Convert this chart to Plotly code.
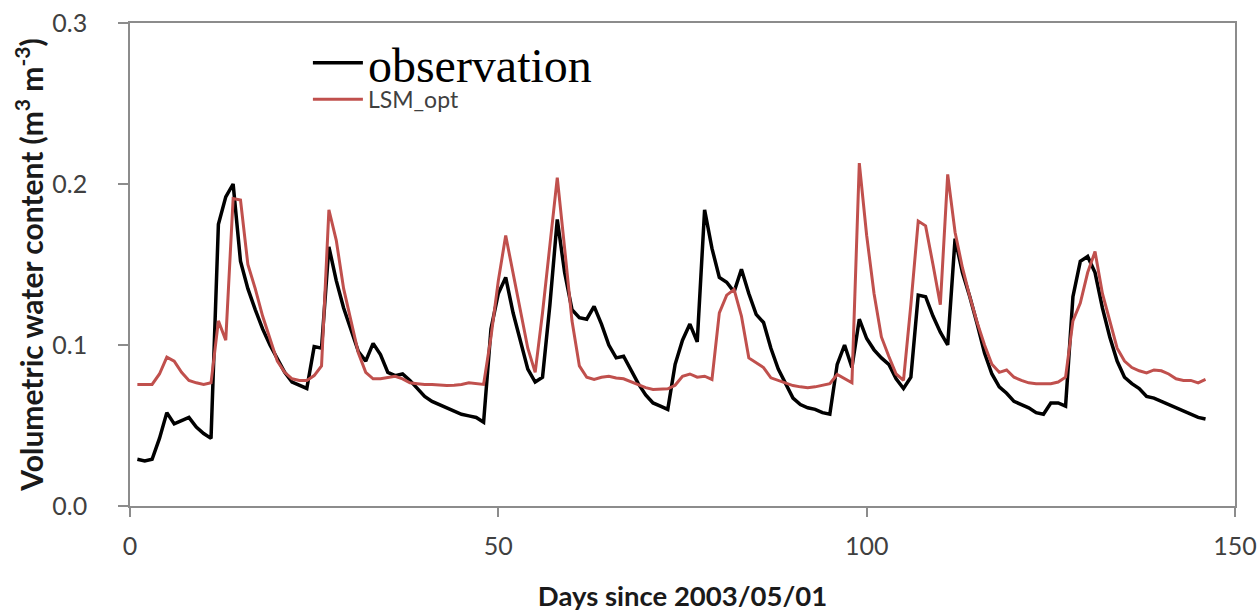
import plotly.graph_objects as go

# Daily volumetric water content, days since 2003/05/01
days = list(range(1, 147))

observation = [
    0.029, 0.028, 0.029, 0.042, 0.058, 0.051, 0.053, 0.055, 0.049, 0.045,
    0.042, 0.175, 0.192, 0.200, 0.152, 0.135, 0.122, 0.110, 0.100, 0.092,
    0.083, 0.077, 0.075, 0.073, 0.099, 0.098, 0.161, 0.140, 0.123, 0.110,
    0.096, 0.090, 0.101, 0.094, 0.083, 0.081, 0.082, 0.078, 0.073, 0.068,
    0.065, 0.063, 0.061, 0.059, 0.057, 0.056, 0.055, 0.052, 0.110, 0.132,
    0.142, 0.120, 0.103, 0.085, 0.077, 0.080, 0.125, 0.178, 0.145, 0.122,
    0.117, 0.116, 0.124, 0.113, 0.100, 0.092, 0.093, 0.084, 0.076, 0.069,
    0.064, 0.062, 0.060, 0.088, 0.103, 0.113, 0.102, 0.184, 0.160, 0.142,
    0.139, 0.133, 0.147, 0.132, 0.119, 0.114, 0.098, 0.085, 0.076, 0.067,
    0.063, 0.061, 0.060, 0.058, 0.057, 0.088, 0.100, 0.086, 0.116, 0.104,
    0.097, 0.092, 0.088, 0.079, 0.073, 0.080, 0.131, 0.130, 0.118, 0.108,
    0.100, 0.166, 0.145, 0.130, 0.113, 0.095, 0.082, 0.074, 0.070, 0.065,
    0.063, 0.061, 0.058, 0.057, 0.064, 0.064, 0.062, 0.130, 0.152, 0.155,
    0.145, 0.123, 0.105, 0.090, 0.080, 0.076, 0.073, 0.068, 0.067, 0.065,
    0.063, 0.061, 0.059, 0.057, 0.055, 0.054,
]

lsm_opt = [
    0.0755, 0.0755, 0.0755, 0.082, 0.0925, 0.090, 0.083, 0.078, 0.0765, 0.0755,
    0.0765, 0.115, 0.103, 0.191, 0.190, 0.150, 0.135, 0.118, 0.104, 0.090,
    0.083, 0.079, 0.078, 0.078, 0.081, 0.087, 0.184, 0.165, 0.135, 0.115,
    0.095, 0.083, 0.079, 0.079, 0.080, 0.0806, 0.079, 0.0765, 0.076, 0.0755,
    0.0755, 0.075, 0.0748, 0.075, 0.0755, 0.0765, 0.076, 0.0755, 0.105, 0.140,
    0.168, 0.145, 0.122, 0.098, 0.083, 0.120, 0.162, 0.204, 0.160, 0.115,
    0.087, 0.080, 0.0786, 0.080, 0.0806, 0.0795, 0.079, 0.077, 0.075, 0.0735,
    0.0724, 0.0725, 0.0728, 0.075, 0.0806, 0.082, 0.080, 0.0806, 0.0786, 0.120,
    0.131, 0.1345, 0.118, 0.092, 0.089, 0.086, 0.0796, 0.078, 0.0765, 0.0748,
    0.074, 0.0734, 0.074, 0.0748, 0.076, 0.0817, 0.079, 0.0765, 0.213, 0.168,
    0.132, 0.105, 0.093, 0.082, 0.078, 0.125, 0.177, 0.174, 0.150, 0.125,
    0.206, 0.170, 0.148, 0.130, 0.114, 0.100, 0.088, 0.083, 0.0845, 0.080,
    0.078, 0.0765, 0.076, 0.076, 0.076, 0.077, 0.080, 0.115, 0.126, 0.145,
    0.158, 0.132, 0.115, 0.098, 0.090, 0.086, 0.084, 0.0827, 0.0845, 0.084,
    0.082, 0.079, 0.078, 0.078, 0.0765, 0.0786,
]

x_ticks = [0, 50, 100, 150]
y_ticks = [0.0, 0.1, 0.2, 0.3]

AXIS_GREY = "#8c8c8c"
TICK_FONT = dict(family="Lato", size=25, color="#404040")

fig = go.Figure()
fig.add_trace(go.Scatter(
    x=days, y=observation, mode="lines", name="observation",
    line=dict(color="#000000", width=3.5), legend="legend",
))
fig.add_trace(go.Scatter(
    x=days, y=lsm_opt, mode="lines", name="LSM_opt",
    line=dict(color="#c0504d", width=3), legend="legend2",
))

fig.update_layout(
    width=1260, height=616,
    margin=dict(l=130, r=25, t=23, b=110, autoexpand=False),
    paper_bgcolor="white", plot_bgcolor="white",
    showlegend=True,
    legend=dict(
        x=0.161, y=0.917, xanchor="left", yanchor="middle",
        font=dict(family="Liberation Serif", size=48, color="#000000"),
        bgcolor="rgba(0,0,0,0)", itemwidth=50,
    ),
    legend2=dict(
        x=0.161, y=0.842, xanchor="left", yanchor="middle",
        font=dict(family="Lato", size=23, color="#404040"),
        bgcolor="rgba(0,0,0,0)", itemwidth=50,
    ),
    xaxis=dict(
        range=[0, 150], tickvals=x_ticks, ticktext=[str(v) for v in x_ticks],
        showgrid=False, zeroline=False, automargin=False,
        showline=True, linecolor=AXIS_GREY, linewidth=1.5, mirror=True,
        ticks="outside", ticklen=9, tickcolor=AXIS_GREY, tickwidth=1.5,
        tickfont=TICK_FONT, ticklabelstandoff=8,
        title=dict(text="<b>Days since 2003/05/01</b>",
                   font=dict(family="Lato", size=27.5, color="#1a1a1a"), standoff=28),
    ),
    yaxis=dict(
        range=[0, 0.3], tickvals=y_ticks, ticktext=[f"{v:.1f}" for v in y_ticks],
        showgrid=False, zeroline=False, automargin=False,
        showline=True, linecolor=AXIS_GREY, linewidth=1.5, mirror=True,
        ticks="outside", ticklen=10, tickcolor=AXIS_GREY, tickwidth=1.5,
        tickfont=TICK_FONT, ticklabelstandoff=26,
        title=dict(
            text="<b>Volumetric water content (m<sup>3</sup> m<sup>-3</sup>)</b>",
            font=dict(family="Lato", size=30, color="#1a1a1a"), standoff=0,
        ),
    ),
)

fig.write_html("out.html")
